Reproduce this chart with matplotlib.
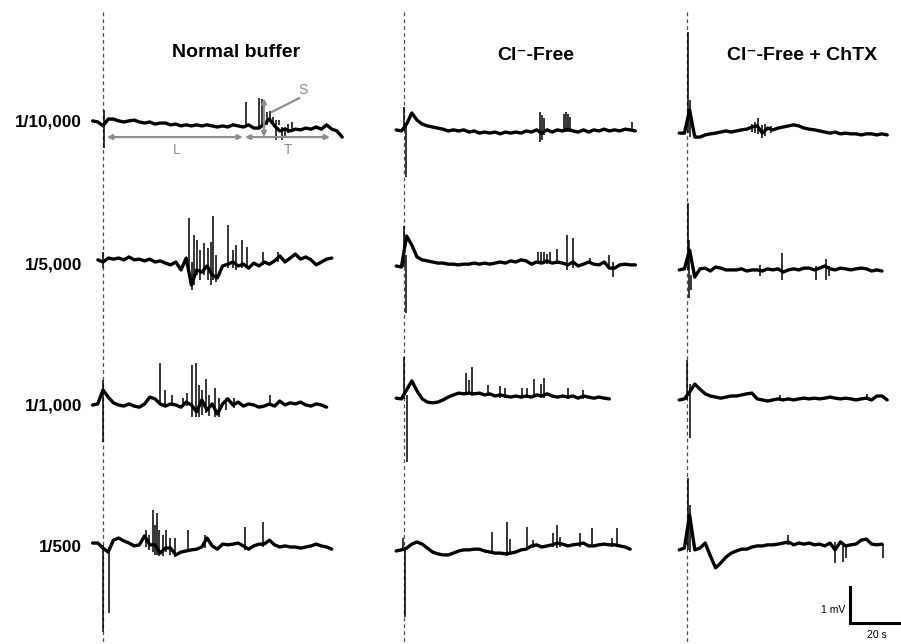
import numpy as np
import matplotlib
matplotlib.use("Agg")
import matplotlib.pyplot as plt
from matplotlib.transforms import Affine2D

############################################################### data ########

# recording scale of the figure
PX_PER_S = 2.6     # 20 s bar ~ 52 px
PX_PER_MV = 36.0   # 1 mV bar ~ 36 px
DT = 2.0           # s between read-off samples

conditions = ["Normal buffer", "Cl\u207b-Free", "Cl\u207b-Free + ChTX"]
dilutions = ["1/10,000", "1/5,000", "1/1,000", "1/500"]

# traces: start time (s, relative to stimulus), samples (mV), fast events (t, low, high)
nb_10000_t0 = -4
nb_10000 = [0.17, 0.14, 0.03, 0.22, 0.22, 0.17, 0.14, 0.17, 0.19, 0.14, 0.11, 0.14, 0.08,
            0.11, 0.11, 0.06, 0.08, 0.03, 0.06, 0.03, 0.06, 0.03, 0.06, 0.03, 0, 0.03, 0,
            0.06, 0.03, 0, 0.06, -0.03, -0.03, 0.08, 0.22, 0.03, -0.11, -0.06, -0.11, -0.06,
            -0.08, -0.03, -0.06, 0, -0.06, 0.06, -0.06, -0.11, -0.28]
nb_10000_spk = [(0.2, -0.58, 0.47), (55, 0.03, 0.69), (60, 0, 0.81), (61.2, 0, 0.78),
                (63.1, 0.06, 0.42), (64.2, 0.14, 0.44), (65.4, 0.08, 0.28), (66.5, -0.36, 0.19),
                (67.7, 0.06, 0.19), (68.8, -0.36, 0), (70, -0.28, 0), (71.2, -0.17, 0.08),
                (72.7, -0.1, 0.14)]

nb_5000_t0 = -2
nb_5000 = [0.06, 0, 0.11, 0.08, 0.11, 0.06, 0.14, 0.06, 0.08, 0.03, 0.08, 0, 0.03, -0.03,
           -0.08, 0, -0.22, 0.11, -0.64, -0.22, -0.28, -0.11, -0.36, -0.44, -0.11, -0.06, 0,
           -0.11, -0.06, -0.17, -0.03, -0.11, 0, -0.06, 0.03, 0.17, 0, 0.11, 0.22, 0.08, 0.14,
           0.06, -0.08, 0, 0.08, 0.11]
nb_5000_spk = [(0, -0.17, 0.28), (33.1, -0.22, 1.22), (34.2, -0.78, 0), (35, -0.64, 0.75),
               (36.2, -0.36, 0.61), (37.3, -0.5, 0.33), (38.8, -0.36, 0.53), (40.4, -0.5, 0.39),
               (41.5, -0.64, 0.56), (42.3, -0.5, 1.28), (43.5, -0.56, 0.19), (48.1, -0.17, 1.03),
               (50, -0.17, 0.33), (51.2, -0.22, 0.47), (53.5, -0.17, 0.61), (55.4, -0.17, 0.42),
               (61.5, -0.08, 0.28), (67.3, 0, 0.28)]

nb_1000_t0 = -4
nb_1000 = [0, 0.03, 0.42, 0.22, 0.06, 0, -0.03, 0.03, -0.03, -0.06, 0.03, 0.22, 0.17, 0.03,
           -0.03, 0.03, 0, -0.06, 0.08, 0, -0.19, 0.14, -0.14, 0.03, -0.25, 0.03, 0.17, 0,
           0.08, -0.03, 0.03, 0, -0.06, -0.03, 0.03, -0.03, 0.11, 0, 0.06, 0.03, 0.08, 0,
           -0.03, 0.03, 0, -0.06]
nb_1000_spk = [(0, -1.03, 0.69), (21.9, 0, 1.17), (23.8, -0.06, 0.42), (26.5, -0.03, 0.28),
               (30.8, 0, 0.19), (32.3, -0.03, 0.33), (34.2, -0.33, 1.11), (35.8, -0.33, 1.17),
               (36.9, -0.33, 0.56), (38.1, -0.28, 0.42), (39.6, -0.22, 0.72), (40.8, -0.31, 0.28),
               (43.1, -0.33, 0.47), (44.6, -0.33, 0.19), (47.3, -0.14, 0.19), (50.4, -0.08, 0.19),
               (64.2, -0.03, 0.28)]

nb_500_t0 = -4
nb_500 = [0.11, 0.11, -0.03, -0.14, 0.19, 0.25, 0.17, 0.11, 0.03, 0.06, 0.31, 0.06, 0.06,
          -0.17, -0.03, -0.03, -0.22, -0.14, -0.11, -0.08, -0.06, 0, 0.25, 0.03, -0.06, 0.08,
          0.06, 0.08, 0.11, 0.03, -0.06, 0.03, 0.08, 0.08, 0.19, 0.06, 0, 0.03, 0, 0, -0.03, 0,
          0.03, 0.08, 0.03, 0, -0.06]
nb_500_spk = [(0.1, -2.36, 0.06), (2.3, -1.83, 0), (16.5, 0, 0.47), (17.7, -0.08, 0.33),
              (19.2, -0.14, 1.03), (20, -0.22, 0.61), (20.8, -0.22, 0.94), (21.5, -0.25, 0.47),
              (23.1, -0.25, 0.33), (24.2, -0.14, 0.47), (25.8, -0.22, 0.25), (27.7, -0.28, 0.25),
              (32.7, -0.14, 0.47), (39.2, -0.03, 0.33), (54.6, -0.08, 0.56), (61.5, 0, 0.69)]

cf_10000_t0 = -3
cf_10000 = [-0.08, -0.11, 0.08, 0.39, 0.19, 0.08, 0.03, 0, -0.03, -0.06, -0.11, -0.08, -0.11,
            -0.08, -0.14, -0.11, -0.17, -0.14, -0.17, -0.14, -0.19, -0.14, -0.17, -0.14, -0.17,
            -0.11, -0.14, -0.08, -0.17, -0.08, -0.14, -0.08, -0.11, -0.06, -0.11, -0.14, -0.08,
            -0.14, -0.08, -0.11, -0.06, -0.11, -0.08, -0.11, -0.06, -0.08, -0.11]
cf_10000_spk = [(0, -0.11, 0.56), (0.8, -1.39, 0.06), (52.3, -0.42, 0.42), (53.1, -0.36, 0.33),
                (53.8, -0.22, 0.25), (61.5, -0.14, 0.36), (62.3, -0.14, 0.42), (63.1, -0.14, 0.36),
                (63.8, -0.14, 0.28), (87.7, -0.11, 0.14)]

cf_5000_t0 = -3
cf_5000 = [-0.11, -0.14, 0.72, 0.47, 0.14, 0.06, 0.03, 0, -0.03, -0.03, -0.06, -0.06, -0.08,
           -0.06, -0.06, -0.03, -0.06, -0.03, -0.06, -0.03, 0, -0.03, 0.03, 0, 0.06, 0.03,
           -0.06, 0, -0.03, 0.03, -0.03, 0, -0.03, -0.08, 0, -0.11, -0.06, 0, -0.06, -0.08, 0,
           -0.17, -0.17, -0.08, -0.06, -0.08, -0.08]
cf_5000_spk = [(0, -0.14, 1.0), (0.8, -1.42, 0.19), (51.5, -0.06, 0.28), (52.7, -0.06, 0.28),
               (53.8, -0.06, 0.28), (55, -0.06, 0.22), (56.2, -0.06, 0.28), (58.8, -0.06, 0.36),
               (62.7, -0.22, 0.75), (65, -0.17, 0.67), (71.5, -0.06, 0.11), (78.8, -0.11, 0.19),
               (80.4, -0.42, 0)]

cf_1000_t0 = -3
cf_1000 = [0.19, 0.17, 0.42, 0.67, 0.39, 0.17, 0.08, 0.06, 0.08, 0.14, 0.22, 0.28, 0.33, 0.31,
           0.33, 0.31, 0.33, 0.28, 0.31, 0.25, 0.28, 0.25, 0.22, 0.25, 0.22, 0.25, 0.22, 0.28,
           0.25, 0.31, 0.25, 0.22, 0.25, 0.22, 0.25, 0.19, 0.25, 0.22, 0.19, 0.22, 0.19, 0.17]
cf_1000_spk = [(0, 0.17, 1.33), (1.2, -1.58, 0.28), (23.8, 0.28, 0.89), (25, 0.28, 0.69),
               (26.2, 0.25, 1.06), (32.3, 0.25, 0.56), (36.9, 0.19, 0.53), (38.8, 0.19, 0.47),
               (45.4, 0.19, 0.47), (47.3, 0.19, 0.47), (50, 0.19, 0.72), (52.7, 0.19, 0.58),
               (53.8, 0.19, 0.75), (63.1, 0.17, 0.47), (68.8, 0.17, 0.42)]

cf_500_t0 = -3
cf_500 = [-0.11, -0.08, -0.03, 0.08, 0.14, 0.08, -0.03, -0.14, -0.19, -0.22, -0.22, -0.17,
          -0.11, -0.08, -0.08, -0.06, -0.06, -0.11, -0.14, -0.17, -0.17, -0.19, -0.17, -0.14,
          -0.08, -0.06, 0.03, 0.06, 0, 0.03, 0.06, 0.11, 0.08, 0.03, 0.06, 0.08, 0.11, 0.03,
          0.03, 0.06, 0.08, 0.06, 0.06, 0.03, 0, -0.06]
cf_500_spk = [(-0.2, -0.11, 0.25), (0.4, -1.94, -0.03), (33.8, -0.14, 0.42), (39.6, -0.25, 0.69),
              (40.8, -0.22, 0.22), (47.3, -0.08, 0.56), (49.6, -0.03, 0.19), (57.3, 0, 0.39),
              (58.8, -0.03, 0.61), (60, 0, 0.28), (67.7, 0, 0.39), (72.3, 0, 0.53),
              (80, 0, 0.25), (81.9, 0, 0.53)]

ch_10000_t0 = -3
ch_10000 = [-0.17, -0.17, 0.47, -0.28, -0.28, -0.22, -0.19, -0.17, -0.14, -0.11, -0.14, -0.11,
            -0.08, -0.06, 0, 0.03, -0.17, -0.03, -0.08, -0.03, 0, 0.03, 0.06, 0.03, -0.03,
            -0.06, -0.08, -0.11, -0.14, -0.17, -0.14, -0.19, -0.17, -0.19, -0.19, -0.22, -0.19,
            -0.19, -0.22, -0.19, -0.22]
ch_10000_spk = [(0.4, -0.17, 2.64), (1.2, -0.28, 0.75), (25, -0.14, 0.08), (26.2, -0.17, 0.14),
                (27.3, -0.19, 0.25), (28.8, -0.31, 0.06), (30, -0.25, 0.08), (32.3, -0.17, 0.03)]

ch_5000_t0 = -3
ch_5000 = [-0.22, -0.19, 0.33, -0.42, -0.19, -0.17, -0.25, -0.14, -0.17, -0.22, -0.22, -0.22,
           -0.19, -0.25, -0.22, -0.22, -0.25, -0.19, -0.22, -0.19, -0.28, -0.22, -0.19, -0.22,
           -0.17, -0.17, -0.22, -0.17, -0.11, -0.19, -0.22, -0.17, -0.19, -0.22, -0.19, -0.17,
           -0.19, -0.25, -0.22, -0.25]
ch_5000_spk = [(0.2, -0.22, 1.64), (0.8, -1.0, 0.61), (1.5, -0.78, -0.36), (28, -0.39, -0.08),
               (36.5, -0.5, 0.25), (49.6, -0.5, -0.11), (53.5, -0.5, 0.08), (54.6, -0.39, -0.11)]

ch_1000_t0 = -3
ch_1000 = [0.14, 0.17, 0.36, 0.58, 0.44, 0.31, 0.25, 0.22, 0.19, 0.22, 0.25, 0.25, 0.28, 0.31,
           0.33, 0.17, 0.14, 0.11, 0.14, 0.17, 0.14, 0.17, 0.14, 0.17, 0.19, 0.17, 0.19, 0.17,
           0.19, 0.22, 0.19, 0.17, 0.19, 0.17, 0.14, 0.17, 0.19, 0.14, 0.25, 0.25, 0.14]
ch_1000_spk = [(0.1, 0.14, 1.25), (1.2, -0.92, 0.58), (35.8, 0.11, 0.28), (69.2, 0.14, 0.31)]

ch_500_t0 = -3
ch_500 = [-0.08, -0.03, 0.89, -0.08, -0.03, 0.11, -0.25, -0.58, -0.44, -0.28, -0.17, -0.11,
          -0.06, -0.06, 0, 0.03, 0.03, 0.06, 0.06, 0.08, 0.11, 0.14, 0.06, 0.11, 0.08, 0.11,
          0.06, 0.08, 0.03, 0.11, -0.08, 0.14, 0.03, 0.06, 0.08, 0.19, 0.22, 0.08, 0.06, 0.08]
ch_500_spk = [(0.4, -0.08, 1.92), (1.2, -0.14, 1.17), (38.8, 0.06, 0.33), (56.9, -0.44, 0.14),
              (60, -0.42, 0.06), (61.2, -0.31, 0.06), (75.4, -0.31, 0.08)]

# layout (pixels): stimulus line of each column, baseline of each row
stim_x = [103, 404, 687]
row_y = [127, 262, 405, 547]
label_y = [122, 265, 406, 547]
title_xy = [(236, 52), (536, 55), (802, 55)]

traces = [
    [(nb_10000_t0, nb_10000, nb_10000_spk), (cf_10000_t0, cf_10000, cf_10000_spk), (ch_10000_t0, ch_10000, ch_10000_spk)],
    [(nb_5000_t0, nb_5000, nb_5000_spk), (cf_5000_t0, cf_5000, cf_5000_spk), (ch_5000_t0, ch_5000, ch_5000_spk)],
    [(nb_1000_t0, nb_1000, nb_1000_spk), (cf_1000_t0, cf_1000, cf_1000_spk), (ch_1000_t0, ch_1000, ch_1000_spk)],
    [(nb_500_t0, nb_500, nb_500_spk), (cf_500_t0, cf_500, cf_500_spk), (ch_500_t0, ch_500, ch_500_spk)],
]

############################################################### plot ########

FONT = ["Liberation Sans", "DejaVu Sans"]

fig = plt.figure(figsize=(9.01, 6.44), dpi=100)
ax = fig.add_axes([0, 0, 1, 1])
ax.set_xlim(0, 901)
ax.set_ylim(644, 0)
ax.axis("off")


def panel(r, c):
    # seconds / mV -> figure pixels for one panel
    return Affine2D().scale(PX_PER_S, -PX_PER_MV).translate(stim_x[c], row_y[r]) + ax.transData


# stimulus markers
for x in stim_x:
    ax.plot([x, x], [12, 644], color="0.3", lw=0.9, ls=(0, (3, 2.5)), zorder=1)

for r in range(4):
    for c in range(3):
        t0, vals, spk = traces[r][c]
        tr = panel(r, c)
        t = t0 + DT * np.arange(len(vals))
        ax.plot(t, vals, color="black", lw=2.4, solid_joinstyle="round",
                solid_capstyle="round", transform=tr, zorder=3)
        st = [s[0] for s in spk]
        lo = [s[1] for s in spk]
        hi = [s[2] for s in spk]
        ax.vlines(st, lo, hi, color="black", lw=1.1, transform=tr, zorder=3)

for c, name in enumerate(conditions):
    ax.text(title_xy[c][0], title_xy[c][1], name, ha="center", va="center",
            fontsize=14, fontweight="bold", family=FONT)

for r, lab in enumerate(dilutions):
    ax.text(82, label_y[r], lab, ha="right", va="center", fontsize=12.3,
            fontweight="bold", family=FONT)

# L / T / S measurement annotations on first trace
gray = "#8e8e8e"
tr = panel(0, 0)
arr = dict(arrowstyle="<|-|>", color=gray, lw=1.6, mutation_scale=7, shrinkA=0, shrinkB=0)
ax.annotate("", xy=(1.5, -0.28), xytext=(53.8, -0.28), xycoords=tr, textcoords=tr, arrowprops=arr)
ax.annotate("", xy=(54.6, -0.28), xytext=(87.3, -0.28), xycoords=tr, textcoords=tr, arrowprops=arr)
ax.annotate("", xy=(61.9, -0.28), xytext=(61.9, 0.8), xycoords=tr, textcoords=tr, arrowprops=arr)
ax.plot([65, 75.4], [0.42, 0.8], color=gray, lw=1.6, transform=tr, zorder=4)
ax.text(28.5, -0.64, "L", color=gray, fontsize=10, ha="center", va="center",
        family=FONT, transform=tr)
ax.text(71, -0.64, "T", color=gray, fontsize=10, ha="center", va="center",
        family=FONT, transform=tr)
ax.text(77, 1.03, "S", color=gray, fontsize=10, ha="center", va="center",
        family=FONT, transform=tr)

# scale bar: 1 mV / 20 s
sb = Affine2D().scale(PX_PER_S, -PX_PER_MV).translate(850, 623) + ax.transData
ax.plot([0, 0, 20], [1, 0, 0], color="black", lw=2.2, solid_joinstyle="miter", transform=sb)
ax.text(-2, 0.36, "1 mV", ha="right", va="center", fontsize=7.5, family=FONT, transform=sb)
ax.text(10.5, -0.33, "20 s", ha="center", va="center", fontsize=7.5, family=FONT, transform=sb)

fig.savefig("out.png", dpi=100)
